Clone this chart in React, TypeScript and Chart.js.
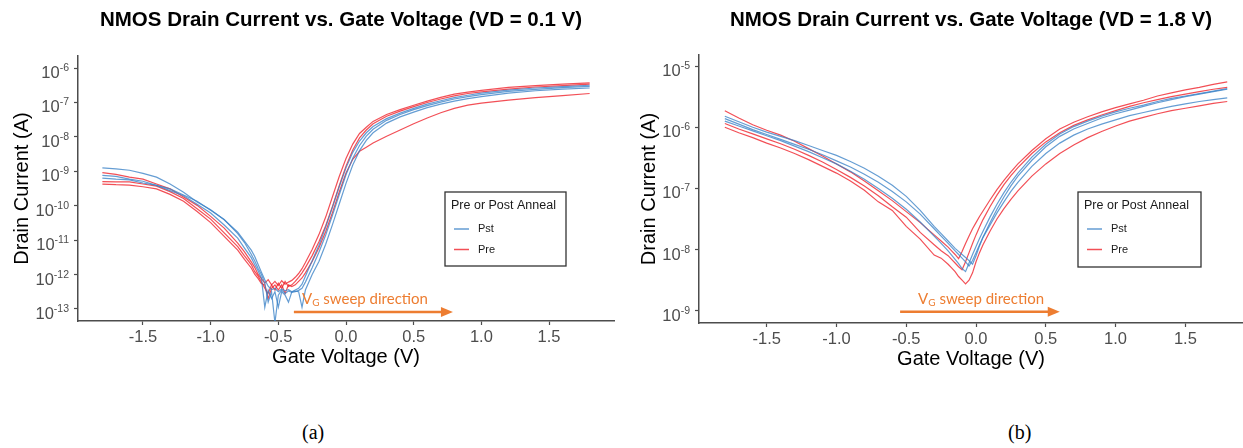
import { useEffect, useRef } from "react";
import { Chart, registerables } from "chart.js";

Chart.register(...registerables);

// ---- Panel (a): VD = 0.1 V ----
// Gate voltage sweep points (V)
const vgA = [
  -1.8, -1.7, -1.6, -1.5, -1.4, -1.3, -1.2, -1.1, -1.0, -0.9, -0.8, -0.75, -0.7,
  -0.675, -0.65, -0.625, -0.6, -0.575, -0.55, -0.525, -0.5, -0.475, -0.45, -0.425,
  -0.4, -0.375, -0.35, -0.325, -0.3, -0.25, -0.2, -0.15, -0.1, -0.05, 0, 0.05, 0.1,
  0.15, 0.2, 0.3, 0.4, 0.5, 0.6, 0.7, 0.8, 0.9, 1.0, 1.2, 1.4, 1.6, 1.8,
];
// Drain current, stored as log10(I / A)
const pstA1 = [
  -8.9, -8.93, -8.97, -9.06, -9.17, -9.37, -9.61, -9.89, -10.12, -10.41, -10.77, -11.03, -11.29,
  -11.47, -11.7, -11.93, -12.15, -12.34, -12.44, -12.4, -12.5, -12.42, -12.47, -12.44,
  -12.5, -12.45, -12.4, -12.28, -12.05, -11.6, -11.15, -10.62, -10.05, -9.45, -8.9, -8.45, -8.12,
  -7.88, -7.7, -7.47, -7.31, -7.17, -7.05, -6.95, -6.86, -6.79, -6.73, -6.64, -6.58, -6.54, -6.5,
];
const pstA2 = [
  -9.12, -9.15, -9.23, -9.29, -9.41, -9.51, -9.69, -9.87, -10.13, -10.4, -10.81, -11.07, -11.41,
  -11.6, -11.82, -12.0, -12.25, -12.8, -12.5, -13.4, -12.6, -12.45, -12.55, -12.48,
  -12.52, -12.5, -12.46, -12.4, -12.22, -11.8, -11.35, -10.85, -10.28, -9.68, -9.1, -8.62, -8.25,
  -7.98, -7.78, -7.52, -7.35, -7.21, -7.09, -6.99, -6.9, -6.83, -6.77, -6.68, -6.62, -6.57, -6.53,
];
const pstA3 = [
  -9.2, -9.23, -9.25, -9.34, -9.41, -9.56, -9.71, -9.96, -10.21, -10.56, -10.94, -11.23, -11.51,
  -11.71, -11.89, -12.1, -12.95, -12.45, -12.7, -12.5, -12.95, -12.5, -12.6, -12.8,
  -12.5, -12.48, -12.5, -12.95, -12.45, -12.0, -11.62, -11.12, -10.55, -9.95, -9.35, -8.82, -8.4,
  -8.1, -7.88, -7.6, -7.42, -7.28, -7.15, -7.05, -6.96, -6.89, -6.83, -6.73, -6.66, -6.61, -6.58,
];
const preA1 = [
  -9.04, -9.09, -9.17, -9.23, -9.37, -9.51, -9.75, -9.99, -10.31, -10.65, -11.09, -11.34, -11.63,
  -11.79, -11.99, -12.12, -12.25, -12.15, -12.3, -12.2, -12.32, -12.18, -12.28, -12.22,
  -12.17, -12.08, -11.97, -11.83, -11.65, -11.27, -10.84, -10.33, -9.74, -9.15, -8.63, -8.21, -7.9,
  -7.72, -7.55, -7.35, -7.21, -7.08, -6.96, -6.85, -6.76, -6.7, -6.65, -6.56, -6.51, -6.47, -6.43,
];
const preA2 = [
  -9.3, -9.31, -9.31, -9.37, -9.43, -9.59, -9.79, -10.09, -10.39, -10.79, -11.19, -11.46, -11.71,
  -11.91, -12.04, -12.21, -12.4, -12.55, -12.3, -12.45, -12.25, -12.4, -12.2, -12.35,
  -12.3, -12.2, -12.08, -11.95, -11.8, -11.45, -11.05, -10.58, -10.02, -9.42, -8.85, -8.38, -8.03,
  -7.8, -7.62, -7.4, -7.25, -7.12, -7.0, -6.9, -6.81, -6.74, -6.69, -6.61, -6.55, -6.51, -6.47,
];
const preA3 = [
  -9.37, -9.39, -9.4, -9.45, -9.51, -9.67, -9.87, -10.17, -10.49, -10.89, -11.29, -11.56, -11.81,
  -11.99, -12.11, -12.26, -12.3, -12.7, -12.4, -12.3, -12.45, -12.3, -12.55, -12.3,
  -12.35, -12.3, -12.2, -12.1, -11.95, -11.62, -11.22, -10.75, -10.2, -9.6, -9.05, -8.65, -8.42,
  -8.3, -8.18, -7.98, -7.8, -7.62, -7.45, -7.3, -7.17, -7.08, -7.02, -6.93, -6.86, -6.8, -6.74,
];
const yExpA = [-6, -7, -8, -9, -10, -11, -12, -13];

// ---- Panel (b): VD = 1.8 V ----
const vgB = [
  -1.8, -1.7, -1.6, -1.5, -1.4, -1.3, -1.2, -1.1, -1.0, -0.9, -0.8, -0.7, -0.6, -0.5, -0.4, -0.3,
  -0.25, -0.2, -0.175, -0.15, -0.125, -0.1, -0.075, -0.05, -0.025, 0, 0.025, 0.05, 0.1, 0.15, 0.2,
  0.25, 0.3, 0.4, 0.5, 0.6, 0.7, 0.8, 0.9, 1.0, 1.1, 1.2, 1.3, 1.4, 1.5, 1.6, 1.7, 1.8,
];
const pstB1 = [
  -5.82, -5.91, -6.0, -6.08, -6.15, -6.22, -6.3, -6.38, -6.46, -6.56, -6.67, -6.8, -6.95, -7.13, -7.36, -7.62,
  -7.74, -7.86, -7.92, -7.98, -8.03, -8.08, -8.13, -8.18, -8.24, -8.1, -7.94, -7.8, -7.56, -7.34, -7.14,
  -6.96, -6.8, -6.54, -6.32, -6.15, -6.03, -5.94, -5.85, -5.78, -5.72, -5.66, -5.6, -5.55, -5.5, -5.46, -5.42, -5.38,
];
const pstB2 = [
  -5.9, -5.98, -6.06, -6.14, -6.22, -6.31, -6.4, -6.5, -6.6, -6.72, -6.85, -7.0, -7.16, -7.34, -7.55, -7.78,
  -7.9, -8.02, -8.09, -8.16, -8.23, -8.31, -8.36, -8.22, -8.08, -7.95, -7.82, -7.7, -7.47, -7.26, -7.07,
  -6.9, -6.75, -6.49, -6.28, -6.11, -5.99, -5.9, -5.82, -5.75, -5.69, -5.64, -5.58, -5.53, -5.49, -5.45, -5.41, -5.37,
];
const pstB3 = [
  -5.86, -5.95, -6.04, -6.12, -6.2, -6.28, -6.36, -6.45, -6.55, -6.65, -6.77, -6.9, -7.05, -7.22, -7.42, -7.66,
  -7.78, -7.9, -7.96, -8.02, -8.08, -8.14, -8.2, -8.27, -8.18, -8.05, -7.92, -7.8, -7.6, -7.4, -7.22,
  -7.05, -6.9, -6.64, -6.43, -6.26, -6.13, -6.03, -5.95, -5.88, -5.81, -5.76, -5.71, -5.66, -5.62, -5.58, -5.55, -5.52,
];
const preB1 = [
  -5.73, -5.85, -5.96, -6.05, -6.13, -6.23, -6.35, -6.47, -6.6, -6.73, -6.88, -7.04, -7.2, -7.38, -7.56, -7.76,
  -7.86, -7.96, -8.02, -8.08, -8.15, -8.03, -7.9, -7.78, -7.66, -7.56, -7.46, -7.37, -7.19, -7.02, -6.87,
  -6.73, -6.6, -6.38, -6.19, -6.03, -5.92, -5.83, -5.75, -5.68, -5.62, -5.56, -5.49, -5.44, -5.39, -5.35, -5.3, -5.26,
];
const preB2 = [
  -5.94, -6.03, -6.11, -6.19, -6.27, -6.36, -6.46, -6.57, -6.69, -6.82, -6.96, -7.12, -7.3, -7.47, -7.72, -7.92,
  -8.02, -8.1, -8.16, -8.22, -8.28, -8.33, -8.2, -8.05, -7.9, -7.76, -7.63, -7.51, -7.3, -7.11, -6.94,
  -6.79, -6.66, -6.43, -6.24, -6.09, -5.97, -5.88, -5.8, -5.73, -5.66, -5.6, -5.55, -5.5, -5.46, -5.42, -5.38, -5.35,
];
const preB3 = [
  -6.0, -6.09, -6.17, -6.26, -6.34, -6.43, -6.53, -6.64, -6.75, -6.88, -7.03, -7.22, -7.36, -7.62, -7.83, -8.09,
  -8.14, -8.24, -8.3, -8.36, -8.44, -8.5, -8.56, -8.5, -8.38, -8.2, -8.05, -7.92, -7.7, -7.5, -7.33,
  -7.18, -7.04, -6.8, -6.6, -6.43, -6.29, -6.17, -6.07, -5.98, -5.9, -5.84, -5.78, -5.73, -5.69, -5.65, -5.61, -5.58,
];
const yExpB = [-5, -6, -7, -8, -9];

// Shared x axis ticks
const xTickValues = [-1.5, -1.0, -0.5, 0, 0.5, 1.0, 1.5];
const xTickLabels = ["-1.5", "-1.0", "-0.5", "0.0", "0.5", "1.0", "1.5"];

const groupNames = ["Pst", "Pre"];
const legendTitle = "Pre or Post Anneal";

const PST_COLOR = "rgba(58, 130, 198, 0.78)";
const PRE_COLOR = "rgba(238, 30, 38, 0.78)";
const ORANGE = "#ED7D31";
const SANS = '"Liberation Sans", Arial, sans-serif';
const TICK_GREY = "#4d4d4d";

type PanelSpec = {
  title: string;
  vg: number[];
  pst: number[][];
  pre: number[][];
  yExp: number[];
  yLogMin: number;
  yLogMax: number;
  xMin: number;
  xMax: number;
  width: number;
  height: number;
  padTop: number;
  padRight: number;
  xAxisHeight: number;
  yAxisWidth: number;
  yTitlePad: number;
  xTitlePad: number;
  titleX: number;
  titleY: number;
  legendBox: { x: number; y: number; w: number; h: number };
  arrow: { from: number; to: number; logY: number; textFrom: number };
};

function makeDecor(spec: PanelSpec) {
  return {
    id: "panelDecor",
    afterDraw(chart: Chart) {
      const { ctx, chartArea } = chart;
      const xs = chart.scales.x;
      const ys = chart.scales.y;
      ctx.save();

      // Title
      ctx.font = `bold 20.5px ${SANS}`;
      ctx.fillStyle = "#000";
      ctx.textAlign = "center";
      ctx.textBaseline = "middle";
      ctx.fillText(spec.title, spec.titleX, spec.titleY);

      // Power-of-ten y tick labels
      ctx.fillStyle = TICK_GREY;
      ctx.textBaseline = "alphabetic";
      ctx.textAlign = "left";
      const right = chartArea.left - 9;
      for (const e of spec.yExp) {
        const y = ys.getPixelForValue(10 ** e);
        const expText = String(e);
        ctx.font = `10.5px ${SANS}`;
        const ew = ctx.measureText(expText).width;
        ctx.fillText(expText, right - ew, y + 3);
        ctx.font = `16.5px ${SANS}`;
        const bw = ctx.measureText("10").width;
        ctx.fillText("10", right - ew - bw, y + 10);
      }

      // Sweep-direction arrow
      const a = spec.arrow;
      const ax0 = xs.getPixelForValue(a.from);
      const ax1 = xs.getPixelForValue(a.to);
      const ay = ys.getPixelForValue(10 ** a.logY);
      ctx.strokeStyle = ORANGE;
      ctx.fillStyle = ORANGE;
      ctx.lineWidth = 2.5;
      ctx.beginPath();
      ctx.moveTo(ax0, ay);
      ctx.lineTo(ax1 - 8, ay);
      ctx.stroke();
      ctx.beginPath();
      ctx.moveTo(ax1, ay);
      ctx.lineTo(ax1 - 12, ay - 5);
      ctx.lineTo(ax1 - 12, ay + 5);
      ctx.closePath();
      ctx.fill();
      const tx = xs.getPixelForValue(a.textFrom);
      const ty = ay - 8;
      ctx.font = `15px Lato, ${SANS}`;
      ctx.fillText("V", tx, ty);
      let w = ctx.measureText("V").width;
      ctx.font = `10px Lato, ${SANS}`;
      ctx.fillText("G", tx + w, ty + 2);
      w += ctx.measureText("G").width;
      ctx.font = `15px Lato, ${SANS}`;
      ctx.fillText(" sweep direction", tx + w, ty);

      // Legend
      const lb = spec.legendBox;
      ctx.fillStyle = "#fff";
      ctx.fillRect(lb.x, lb.y, lb.w, lb.h);
      ctx.strokeStyle = "#333";
      ctx.lineWidth = 1.3;
      ctx.strokeRect(lb.x, lb.y, lb.w, lb.h);
      ctx.fillStyle = "#1a1a1a";
      ctx.textBaseline = "middle";
      ctx.font = `12.5px ${SANS}`;
      ctx.fillText(legendTitle, lb.x + 6, lb.y + 14);
      const colors = [PST_COLOR, PRE_COLOR];
      groupNames.forEach((name, i) => {
        const ly = lb.y + 37 + i * 20.5;
        ctx.strokeStyle = colors[i];
        ctx.lineWidth = 1.5;
        ctx.beginPath();
        ctx.moveTo(lb.x + 9, ly);
        ctx.lineTo(lb.x + 24, ly);
        ctx.stroke();
        ctx.fillStyle = "#1a1a1a";
        ctx.font = `11px ${SANS}`;
        ctx.fillText(name, lb.x + 33, ly);
      });

      ctx.restore();
    },
  };
}

function buildChart(canvas: HTMLCanvasElement, spec: PanelSpec) {
  const toPoints = (vals: number[]) => spec.vg.map((x, i) => ({ x, y: 10 ** vals[i] }));
  const datasets = [
    ...spec.pst.map((vals, i) => ({
      label: `${groupNames[0]} ${i + 1}`,
      data: toPoints(vals),
      borderColor: PST_COLOR,
      borderWidth: 1.2,
      pointRadius: 0,
      tension: 0,
      fill: false,
    })),
    ...spec.pre.map((vals, i) => ({
      label: `${groupNames[1]} ${i + 1}`,
      data: toPoints(vals),
      borderColor: PRE_COLOR,
      borderWidth: 1.2,
      pointRadius: 0,
      tension: 0,
      fill: false,
    })),
  ];

  return new Chart(canvas, {
    type: "line",
    data: { datasets },
    plugins: [makeDecor(spec)],
    options: {
      animation: false,
      responsive: false,
      devicePixelRatio: 1,
      events: [],
      layout: { padding: { left: 0, right: spec.padRight, top: spec.padTop, bottom: 0 } },
      plugins: {
        legend: { display: false },
        tooltip: { enabled: false },
        title: { display: false },
      },
      scales: {
        x: {
          type: "linear",
          min: spec.xMin,
          max: spec.xMax,
          afterBuildTicks: (scale: any) => {
            scale.ticks = xTickValues.map((value) => ({ value }));
          },
          afterFit: (scale: any) => {
            scale.height = spec.xAxisHeight;
          },
          ticks: {
            autoSkip: false,
            maxRotation: 0,
            padding: 3,
            color: TICK_GREY,
            font: { family: SANS, size: 16.5 },
            callback: (_v: any, i: number) => xTickLabels[i],
          },
          grid: {
            drawOnChartArea: false,
            drawTicks: true,
            tickLength: 4,
            tickColor: "#4d4d4d",
            tickWidth: 1.2,
          },
          border: { display: true, color: "#4d4d4d", width: 1.5 },
          title: {
            display: true,
            text: "Gate Voltage (V)",
            color: "#000",
            font: { family: SANS, size: 20 },
            padding: { top: 0, bottom: spec.xTitlePad },
          },
        },
        y: {
          type: "logarithmic",
          min: 10 ** spec.yLogMin,
          max: 10 ** spec.yLogMax,
          afterBuildTicks: (scale: any) => {
            scale.ticks = spec.yExp.map((e) => ({ value: 10 ** e }));
          },
          afterFit: (scale: any) => {
            scale.width = spec.yAxisWidth;
          },
          ticks: { display: false },
          grid: {
            drawOnChartArea: false,
            drawTicks: true,
            tickLength: 4,
            tickColor: "#4d4d4d",
            tickWidth: 1.2,
          },
          border: { display: true, color: "#4d4d4d", width: 1.5 },
          title: {
            display: true,
            text: "Drain Current (A)",
            color: "#000",
            font: { family: SANS, size: 20 },
            padding: { top: spec.yTitlePad, bottom: 0 },
          },
        },
      },
    },
  } as any);
}

const panelA: PanelSpec = {
  title: "NMOS Drain Current vs. Gate Voltage (VD = 0.1 V)",
  vg: vgA,
  pst: [pstA1, pstA2, pstA3],
  pre: [preA1, preA2, preA3],
  yExp: yExpA,
  yLogMin: -13.35,
  yLogMax: -5.65,
  xMin: -1.98,
  xMax: 1.98,
  width: 621,
  height: 380,
  padTop: 56,
  padRight: 7,
  xAxisHeight: 59,
  yAxisWidth: 78,
  yTitlePad: 10,
  xTitlePad: 11,
  titleX: 341,
  titleY: 20,
  legendBox: { x: 445, y: 192, w: 121, h: 74 },
  arrow: { from: -0.385, to: 0.79, logY: -13.09, textFrom: -0.325 },
};

const panelB: PanelSpec = {
  title: "NMOS Drain Current vs. Gate Voltage (VD = 1.8 V)",
  vg: vgB,
  pst: [pstB1, pstB2, pstB3],
  pre: [preB1, preB2, preB3],
  yExp: yExpB,
  yLogMin: -9.2,
  yLogMax: -4.82,
  xMin: -1.985,
  xMax: 1.913,
  width: 622,
  height: 380,
  padTop: 55,
  padRight: 0,
  xAxisHeight: 57,
  yAxisWidth: 78,
  yTitlePad: 16,
  xTitlePad: 9,
  titleX: 350,
  titleY: 20,
  legendBox: { x: 457, y: 192, w: 123, h: 75 },
  arrow: { from: -0.544, to: 0.6, logY: -9.016, textFrom: -0.415 },
};

function Panel({ spec, left }: { spec: PanelSpec; left: number }) {
  const ref = useRef<HTMLCanvasElement>(null);
  useEffect(() => {
    const chart = buildChart(ref.current as HTMLCanvasElement, spec);
    return () => chart.destroy();
  }, [spec]);
  return (
    <canvas
      ref={ref}
      width={spec.width}
      height={spec.height}
      style={{ position: "absolute", left, top: 0, width: spec.width, height: spec.height }}
    />
  );
}

const captionStyle = {
  position: "absolute" as const,
  top: 420,
  fontFamily: '"Liberation Serif", "Times New Roman", serif',
  fontSize: 20,
  lineHeight: "24px",
  color: "#000",
};

export default function App() {
  return (
    <div
      style={{
        position: "absolute",
        left: 0,
        top: 0,
        width: 1243,
        height: 448,
        background: "#fff",
        overflow: "hidden",
      }}
    >
      <Panel spec={panelA} left={0} />
      <Panel spec={panelB} left={621} />
      <div style={{ ...captionStyle, left: 302 }}>(a)</div>
      <div style={{ ...captionStyle, left: 1008 }}>(b)</div>
    </div>
  );
}
